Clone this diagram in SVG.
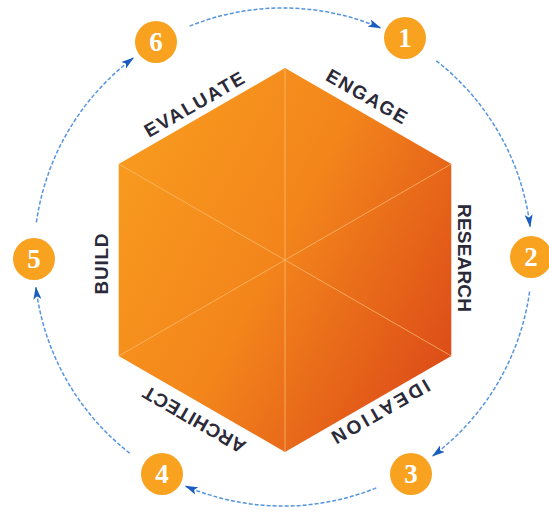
<svg xmlns="http://www.w3.org/2000/svg" width="549" height="514" viewBox="0 0 549 514">
<style>
.lbl{font-family:"Liberation Sans",Arial,sans-serif;font-size:19px;font-weight:bold;fill:#2b2a38;text-anchor:middle}
.badge circle{fill:#f8a21f}
.badge text{font-family:"Liberation Serif","Times New Roman",serif;font-size:27px;font-weight:bold;fill:#ffffff;text-anchor:middle}
.arc{fill:none;stroke:#5594e0;stroke-width:1.5;stroke-dasharray:4 2;marker-end:url(#ah)}
.inner{stroke:#fbc27a;stroke-width:1;opacity:0.7}
</style>
<defs>
<linearGradient id="hg" x1="0" y1="0.25" x2="1" y2="0.85">
<stop offset="0" stop-color="#f89a1e"/>
<stop offset="0.45" stop-color="#f3851b"/>
<stop offset="1" stop-color="#db4818"/>
</linearGradient>
<marker id="ah" markerWidth="13" markerHeight="8" refX="12" refY="4" orient="auto" markerUnits="userSpaceOnUse">
<path d="M0,0 L13,4 L0,8 L3,4 z" fill="#1a5cc0"/>
</marker>
</defs>
<rect width="549" height="514" fill="#ffffff"/>
<g id="hexagon">
<polygon points="285,68 451.3,164 451.3,356 285,452 118.7,356 118.7,164" fill="url(#hg)"/>
<line class="inner" x1="285" y1="68" x2="285" y2="452"/>
<line class="inner" x1="451.3" y1="164" x2="118.7" y2="356"/>
<line class="inner" x1="451.3" y1="356" x2="118.7" y2="164"/>
</g>
<g id="labels">
<text class="lbl" transform="translate(194,104) rotate(-30)" y="7" textLength="112" lengthAdjust="spacing">EVALUATE</text>
<text class="lbl" transform="translate(367,96) rotate(30)" y="7" textLength="90" lengthAdjust="spacing">ENGAGE</text>
<text class="lbl" transform="translate(465,258) rotate(90)" y="7" textLength="108" lengthAdjust="spacing">RESEARCH</text>
<text class="lbl" transform="translate(381,412) rotate(150)" y="7" textLength="110" lengthAdjust="spacing">IDEATION</text>
<text class="lbl" transform="translate(194,420) rotate(210)" y="7" textLength="115" lengthAdjust="spacing">ARCHITECT</text>
<text class="lbl" transform="translate(101,264) rotate(-90)" y="7" textLength="61" lengthAdjust="spacing">BUILD</text>
</g>
<g id="connectors">
<path class="arc" d="M189.7,26.1 A249,249 0 0 1 380.3,27.8"/>
<path class="arc" d="M436.3,60.8 A249,249 0 0 1 530.1,226.6"/>
<path class="arc" d="M529.6,291.7 A249,249 0 0 1 432.8,455.9"/>
<path class="arc" d="M376.3,487.9 A249,249 0 0 1 185.7,486.2"/>
<path class="arc" d="M129.7,453.2 A249,249 0 0 1 35.9,287.4"/>
<path class="arc" d="M36.4,222.3 A249,249 0 0 1 133.2,58.1"/>
</g>
<g id="step1" class="badge"><circle cx="405" cy="38" r="21"/><text x="405" y="47">1</text></g>
<g id="step2" class="badge"><circle cx="531" cy="257" r="21"/><text x="531" y="266">2</text></g>
<g id="step3" class="badge"><circle cx="411" cy="474" r="21"/><text x="411" y="483">3</text></g>
<g id="step4" class="badge"><circle cx="162" cy="474" r="21"/><text x="162" y="483">4</text></g>
<g id="step5" class="badge"><circle cx="34" cy="259" r="21"/><text x="34" y="268">5</text></g>
<g id="step6" class="badge"><circle cx="156" cy="42" r="21"/><text x="156" y="51">6</text></g>
</svg>
